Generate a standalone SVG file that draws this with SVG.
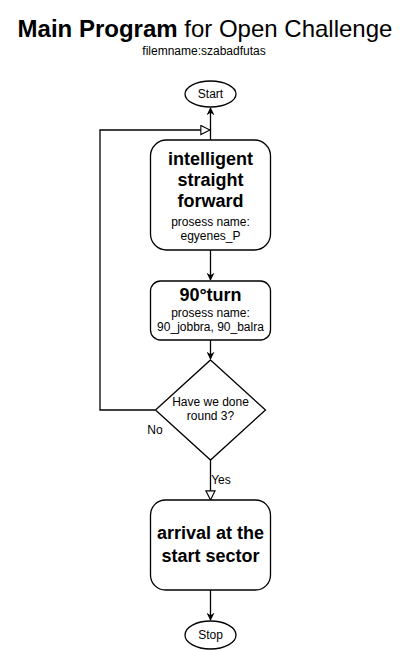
<svg xmlns="http://www.w3.org/2000/svg" width="410" height="651" viewBox="0 0 410 651">
<defs>
<style>
.s{fill:#fff;stroke:#000;stroke-width:1.3}
.e{fill:none;stroke:#000;stroke-width:1.3}
text{font-family:"Liberation Sans",Arial,sans-serif;fill:#000;text-anchor:middle}
.b{font-weight:bold;font-size:18px}
.n{font-size:12px}
</style>
<marker id="fa" viewBox="0 0 10 10" refX="9" refY="5" markerWidth="8" markerHeight="8" markerUnits="userSpaceOnUse" orient="auto"><path d="M0,0 L10,5 L0,10 L3,5 Z" fill="#000"/></marker>
<marker id="oa" viewBox="0 0 12 12" refX="11" refY="6" markerWidth="11" markerHeight="11" markerUnits="userSpaceOnUse" orient="auto"><path d="M1,1 L11,6 L1,11 Z" fill="#fff" stroke="#000" stroke-width="1.2"/></marker>
</defs>
<rect width="410" height="651" fill="#fff"/>
<g id="title">
<text x="205" y="37" style="font-size:24px"><tspan font-weight="bold">Main Program</tspan> for Open Challenge</text>
<text x="204" y="55" style="font-size:12px">filemname:szabadfutas</text>
</g>
<g id="connectors">
<line class="e" x1="210.5" y1="140" x2="210.5" y2="108" marker-end="url(#fa)"/>
<polyline class="e" points="155,410 100,410 100,130 210,130" marker-end="url(#oa)"/>
<line class="e" x1="210.5" y1="250" x2="210.5" y2="280" marker-end="url(#fa)"/>
<line class="e" x1="210.5" y1="340" x2="210.5" y2="359" marker-end="url(#fa)"/>
<line class="e" x1="210.5" y1="460" x2="210.5" y2="500" marker-end="url(#oa)"/>
<line class="e" x1="210.5" y1="590" x2="210.5" y2="620" marker-end="url(#fa)"/>
<text x="155" y="434" class="n">No</text>
<text x="221" y="484" class="n">Yes</text>
</g>
<g id="start">
<ellipse class="s" cx="210.5" cy="94" rx="25.5" ry="13"/>
<text x="210.5" y="98" class="n">Start</text>
</g>
<g id="straight">
<rect class="s" x="150.5" y="140" width="120" height="110" rx="16"/>
<text x="210.5" y="165" class="b">intelligent</text>
<text x="210.5" y="186" class="b">straight</text>
<text x="210.5" y="207" class="b">forward</text>
<text x="210.5" y="226" class="n">prosess name:</text>
<text x="210.5" y="240" class="n">egyenes_P</text>
</g>
<g id="turn">
<rect class="s" x="150.5" y="281" width="120" height="59" rx="10"/>
<text x="210.5" y="301" class="b">90°turn</text>
<text x="210.5" y="317" class="n">prosess name:</text>
<text x="210.5" y="331" class="n">90_jobbra, 90_balra</text>
</g>
<g id="decision">
<polygon class="s" points="210.5,360 265.5,410 210.5,460 155.5,410"/>
<text x="210.5" y="406" class="n">Have we done</text>
<text x="210.5" y="420" class="n">round 3?</text>
</g>
<g id="arrival">
<rect class="s" x="150.5" y="500" width="120" height="90" rx="15"/>
<text x="210.5" y="539" class="b">arrival at the</text>
<text x="210.5" y="562" class="b">start sector</text>
</g>
<g id="stop">
<ellipse class="s" cx="210.5" cy="635" rx="25.5" ry="14"/>
<text x="210.5" y="639" class="n">Stop</text>
</g>
</svg>
